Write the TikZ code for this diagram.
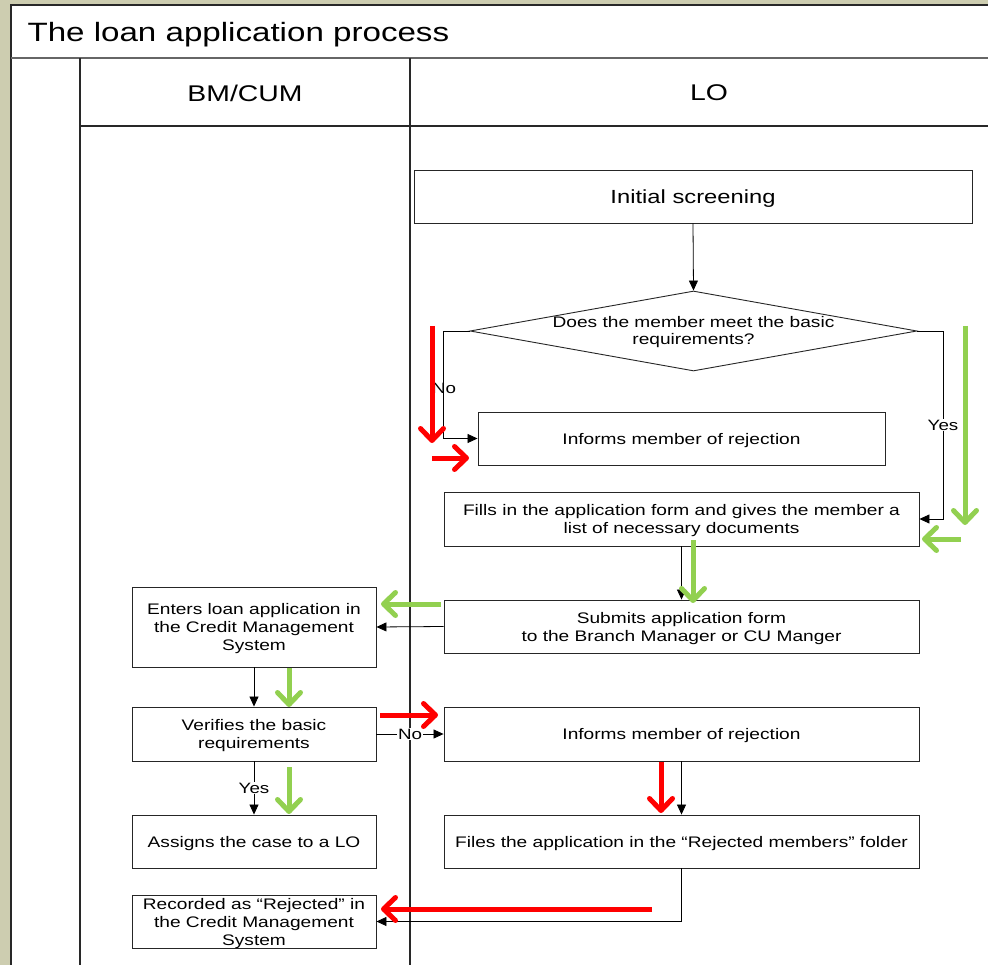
\documentclass[tikz,border=0pt]{standalone}
\usepackage{fontspec}
\setmainfont{Liberation Sans}[FakeStretch=1.25]
\usetikzlibrary{arrows.meta,shapes.geometric}
\definecolor{khaki}{RGB}{205,205,176}
\definecolor{okgreen}{RGB}{146,208,80}
\definecolor{nored}{RGB}{255,0,0}
\definecolor{frameline}{RGB}{40,40,40}

\begin{document}
\begin{tikzpicture}[x=1pt,y=-1pt,
  box/.style={draw=black!85, line width=0.9pt, fill=white, inner sep=0pt,
    align=center, text depth=-1.5pt, font=\fontsize{15.3}{18}\selectfont},
  flow/.style={draw=black, line width=0.8pt, -{Triangle[length=10pt,width=9pt]}},
  lbl/.style={font=\fontsize{15}{18}\selectfont, inner sep=1pt},
  head/.style={font=\fontsize{22.7}{26}\selectfont},
  bigarrow/.style={line width=5pt,
    -{Straight Barb[length=12pt,width=23pt,line cap=round,line join=round]}},
  yesarrow/.style={bigarrow, draw=okgreen},
  noarrow/.style={bigarrow, draw=nored}
]
% canvas and page frame
\useasboundingbox (0,0) rectangle (988,965);
\fill[khaki] (0,0) rectangle (988,965);
\fill[white] (11,5) rectangle (990,967);
\draw[frameline, line width=2pt] (11,967) -- (11,5) -- (990,5);
\draw[black!60, line width=2.5pt] (11,58) -- (990,58);
\draw[frameline, line width=1.3pt] (80,126) -- (990,126);
\draw[frameline, line width=1.3pt] (80,58) -- (80,967);
\draw[frameline, line width=1.6pt] (410,58) -- (410,967);

% titles
\node[anchor=west, font=\fontsize{26.5}{30}\selectfont] (title) at (24,35) {The loan application process};
\node[head] (lane1) at (245,93) {BM/CUM};
\node[head] (lane2) at (709,93) {LO};

% process steps
\node[box, minimum width=558pt, minimum height=53pt, font=\fontsize{19}{22}\selectfont]
  (init) at (693,196.5) {Initial screening};
\node[diamond, draw=black!85, line width=0.9pt, fill=white, inner sep=0pt,
  aspect=5.6, minimum width=447pt, minimum height=80pt] (dia) at (693.5,331) {};
\node[align=center, font=\fontsize{15.3}{17}\selectfont, inner sep=0pt] (diatext) at (693.5,332.5)
  {Does the member meet the basic\\requirements?};
\node[box, minimum width=407pt, minimum height=53pt] (rej1) at (681.5,438.5)
  {Informs member of rejection};
\node[box, minimum width=475pt, minimum height=54pt] (fill) at (681.5,519)
  {Fills in the application form and gives the member a\\list of necessary documents};
\node[box, minimum width=475pt, minimum height=53pt] (sub) at (681.5,626.5)
  {Submits application form\\to the Branch Manager or CU Manger};
\node[box, minimum width=244pt, minimum height=80pt] (ent) at (254,627)
  {Enters loan application in\\the Credit Management\\System};
\node[box, minimum width=244pt, minimum height=54pt] (ver) at (254,734)
  {Verifies the basic\\requirements};
\node[box, minimum width=475pt, minimum height=54pt] (rej2) at (681.5,734)
  {Informs member of rejection};
\node[box, minimum width=244pt, minimum height=53pt] (asg) at (254,841.5)
  {Assigns the case to a LO};
\node[box, minimum width=475pt, minimum height=53pt] (fil) at (681.5,841.5)
  {Files the application in the “Rejected members” folder};
\node[box, minimum width=244pt, minimum height=53pt] (rec) at (254,921.5)
  {Recorded as “Rejected” in\\the Credit Management\\System};

% connectors
\draw[flow] (init.south) -- (dia.north);
\coordinate (noturn) at (443,331);
\coordinate (yesturn) at (943,331);
\draw[flow] (dia.west) -- (noturn) |- (rej1.west);
\node[lbl] (nolbl) at (444,388) {No};
\draw[flow] (dia.east) -- (yesturn) |- (fill.east);
\node[lbl, fill=white] (yeslbl) at (943,425) {Yes};
\draw[flow] (fill.south) -- (sub.north);
\draw[flow] (sub.west) -- (ent.east);
\draw[flow] (ent.south) -- (ver.north);
\draw[flow] (ver.east) -- (rej2.west) node[lbl, midway, fill=white] (nolbl2) {No};
\draw[flow] (ver.south) -- (asg.north) node[lbl, midway, fill=white] (yeslbl2) {Yes};
\draw[flow] (rej2.south) -- (fil.north);
\draw[flow] (fil.south) |- (rec.east);

% highlighted paths: approval in green, rejection in red
\coordinate (r1a) at (432,326);  \coordinate (r1b) at (432,443);
\coordinate (r2a) at (432,458);  \coordinate (r2b) at (469,458);
\coordinate (g1a) at (965,326);  \coordinate (g1b) at (965,525);
\coordinate (g2a) at (961,539);  \coordinate (g2b) at (922,539);
\coordinate (g3a) at (693,540);  \coordinate (g3b) at (693,603);
\coordinate (g4a) at (441,604);  \coordinate (g4b) at (381,604);
\coordinate (g5a) at (289,668);  \coordinate (g5b) at (289,707);
\coordinate (r3a) at (380,715);  \coordinate (r3b) at (438,715);
\coordinate (g6a) at (289,767);  \coordinate (g6b) at (289,814);
\coordinate (r4a) at (661,762);  \coordinate (r4b) at (661,813);
\coordinate (r5a) at (652,909);  \coordinate (r5b) at (381,909);
\draw[noarrow] (r1a) -- (r1b);
\draw[noarrow] (r2a) -- (r2b);
\draw[yesarrow] (g1a) -- (g1b);
\draw[yesarrow] (g2a) -- (g2b);
\draw[yesarrow] (g3a) -- (g3b);
\draw[yesarrow] (g4a) -- (g4b);
\draw[yesarrow] (g5a) -- (g5b);
\draw[noarrow] (r3a) -- (r3b);
\draw[yesarrow] (g6a) -- (g6b);
\draw[noarrow] (r4a) -- (r4b);
\draw[noarrow] (r5a) -- (r5b);
\end{tikzpicture}
\end{document}
